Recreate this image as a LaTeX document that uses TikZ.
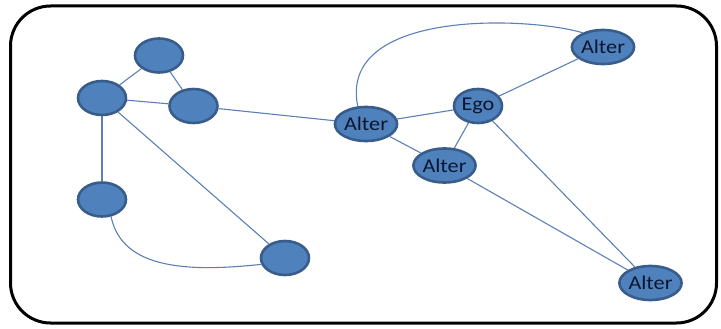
\documentclass[tikz,border=0pt]{standalone}
\usepackage{fontspec}
\setmainfont{Carlito}
\usetikzlibrary{shapes.geometric}
\definecolor{nodefill}{HTML}{4F81BD}
\definecolor{nodeedge}{HTML}{385D8A}
\definecolor{linkcol}{HTML}{5B80B6}
\definecolor{labelcol}{HTML}{0B1730}
\tikzset{
  person/.style={ellipse, draw=nodeedge, fill=nodefill, line width=2.6pt,
    minimum width=48pt, minimum height=34pt, inner sep=0pt,
    text=labelcol, font=\fontsize{19.5}{19.5}\selectfont},
  link/.style={draw=linkcol, line width=1.1pt},
  frame/.style={draw=black, line width=3pt, rounded corners=40pt}
}
\newcommand{\lbl}[1]{\scalebox{1.14}[1]{#1}}
\begin{document}
\begin{tikzpicture}[x=1pt,y=-1pt]
  \useasboundingbox (0,0) rectangle (721,329);
  \draw[frame] (10.5,6) rectangle (716.5,323);

  % left cluster
  \node[person] (a) at (159,55.5) {};
  \node[person] (b) at (102,98) {};
  \node[person] (c) at (193.5,106) {};
  \node[person] (d) at (102,199.5) {};
  \node[person] (e) at (285,258) {};

  % ego network
  \node[person] (al1) at (366,124) {\lbl{Alter}};
  \node[person] (ego) at (478,106) {\lbl{Ego}};
  \node[person] (al2) at (603,47) {\lbl{Alter}};
  \node[person] (al3) at (444.5,165.5) {\lbl{Alter}};
  \node[person] (al4) at (650.5,283) {\lbl{Alter}};

  % ties
  \path[link] (a) -- (b);
  \path[link] (a) -- (c);
  \path[link] (b) -- (c);
  \path[link] (b) -- (d);
  \path[link] (b) -- (e);
  \path[link] (d.-62) .. controls (122,270) and (190,272) .. (e.195);
  \path[link] (c) -- (al1);
  \path[link] (al1) -- (ego);
  \path[link] (al1) -- (al3);
  \path[link] (ego) -- (al3);
  \path[link] (ego) -- (al2);
  \path[link] (ego) -- (al4);
  \path[link] (al3) -- (al4);
  \path[link] (al1.115) .. controls (338,10) and (525,16) .. (al2.145);
\end{tikzpicture}
\end{document}
